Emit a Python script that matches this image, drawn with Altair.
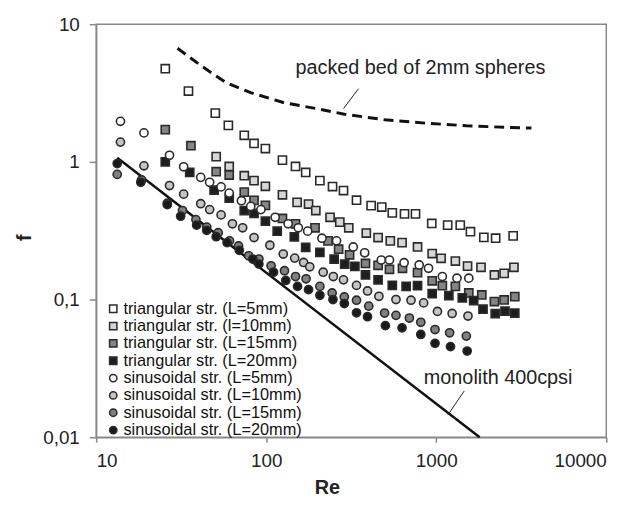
import altair as alt
import pandas as pd

# ---------------- data ----------------
series_names = [
    "triangular str. (L=5mm)", "triangular str. (l=10mm)",
    "triangular str. (L=15mm)", "triangular str. (L=20mm)",
    "sinusoidal str. (L=5mm)", "sinusoidal str. (L=10mm)",
    "sinusoidal str. (L=15mm)", "sinusoidal str. (L=20mm)",
]
series_fill = ["#ffffff", "#d6d6d6", "#858585", "#1e1e1e",
               "#ffffff", "#c4c4c4", "#808080", "#1a1a1a"]
series_stroke = ["#2a2a2a"] * 8
series_shape = ["square"] * 4 + ["circle"] * 4

t5_re = [25.5, 34.9, 50.2, 59.9, 74.3, 84.8, 98.9, 124.6, 148.7, 170.7, 206.9, 245.5, 284.8,
         339.7, 414, 478, 551.6, 650.7, 755.1, 941, 1167, 1384, 1589, 1905, 2235, 2833]
t5_f = [4.75, 3.27, 2.26, 1.84, 1.56, 1.36, 1.25, 1.03, 0.926, 0.838, 0.731, 0.662, 0.619,
        0.527, 0.481, 0.470, 0.426, 0.419, 0.419, 0.357, 0.347, 0.347, 0.311, 0.283, 0.279, 0.290]

t10_re = [50.8, 60.6, 74.3, 84.8, 98.9, 124.6, 152.0, 177.4, 195.8, 237.5, 271.0, 305.9, 387.8,
          455.0, 536.7, 629.5, 776.2, 946.4, 1068, 1296, 1528, 1833, 2198, 2509, 2864]
t10_f = [1.092, 0.926, 0.793, 0.731, 0.665, 0.577, 0.508, 0.494, 0.443, 0.396, 0.365, 0.332, 0.304,
         0.282, 0.267, 0.259, 0.241, 0.216, 0.1995, 0.1905, 0.175, 0.1716, 0.151, 0.155, 0.1716]

t15_re = [25.5, 36.1, 50.8, 60.6, 74.3, 84.8, 98.9, 124.6, 148.7, 193.7, 231.0, 266.6, 309.3,
          383.5, 455.0, 530.8, 633.0, 776.2, 946.4, 1086, 1296, 1554, 1853, 2198, 2509, 2896]
t15_f = [1.716, 1.31, 0.848, 0.802, 0.603, 0.525, 0.483, 0.388, 0.355, 0.332, 0.267, 0.232, 0.2115,
         0.183, 0.1773, 0.166, 0.1687, 0.157, 0.1369, 0.126, 0.1246, 0.1116, 0.108, 0.0967, 0.0994, 0.105]

t20_re = [25.5, 35.5, 49.4, 60.6, 74.3, 84.8, 98.9, 116.1, 146.3, 170.7, 206.9, 250.9, 289.6,
          332.2, 383.5, 455.0, 551.6, 665.2, 776.2, 946.4, 1186, 1423, 1660, 1884, 2223, 2537, 2896]
t20_f = [1.00, 0.838, 0.623, 0.545, 0.443, 0.423, 0.371, 0.314, 0.285, 0.239, 0.220, 0.197, 0.181,
         0.174, 0.151, 0.139, 0.1267, 0.1246, 0.126, 0.1104, 0.1068, 0.1028, 0.0984, 0.0852, 0.0789,
         0.0825, 0.0798]

s5_re = [13.9, 19.1, 27.0, 32.7, 41.2, 46.5, 54.3, 60.6, 71.5, 81.1, 93.1, 112.9, 134.6, 154.5,
         175.4, 212.7, 259.3, 325.1, 379.3, 475.3, 530.8, 647.1, 793.6, 900.4, 1086, 1324, 1554]
s5_f = [1.97, 1.624, 1.116, 0.921, 0.772, 0.711, 0.658, 0.593, 0.522, 0.475, 0.450, 0.396, 0.355,
        0.332, 0.314, 0.279, 0.267, 0.241, 0.2186, 0.1937, 0.1937, 0.1852, 0.1783, 0.1687, 0.147,
        0.143, 0.143]

s10_re = [13.9, 19.1, 27.0, 32.7, 41.2, 46.5, 54.3, 63.3, 72.7, 84.8, 105.1, 126.0, 147.1, 166.0,
          180.3, 216.3, 248.2, 284.8, 339.7, 394.3, 460.1, 579.7, 710.7, 843.2, 1016.7, 1240, 1537]
s10_f = [1.392, 0.936, 0.673, 0.583, 0.497, 0.450, 0.412, 0.355, 0.332, 0.282, 0.248, 0.214, 0.200,
         0.186, 0.173, 0.158, 0.147, 0.139, 0.1267, 0.1154, 0.1056, 0.100, 0.0989, 0.0946, 0.082,
         0.0793, 0.0759]

s15_re = [13.3, 18.5, 26.2, 32.2, 38.6, 44.7, 52.2, 60.9, 68.8, 78.9, 90.6, 106.8, 128.1, 148.7,
          171.6, 206.9, 244.2, 288.0, 339.7, 400.9, 496.8, 579.7, 695.2, 811.3, 983.5, 1199, 1503]
s15_f = [0.811, 0.739, 0.502, 0.443, 0.381, 0.336, 0.306, 0.267, 0.245, 0.208, 0.197, 0.176, 0.162,
         0.147, 0.1415, 0.1246, 0.1116, 0.1045, 0.0989, 0.0896, 0.0798, 0.0768, 0.0734, 0.0684,
         0.0606, 0.0574, 0.0543]

s20_re = [13.3, 18.3, 26.2, 31.4, 39.0, 44.7, 50.8, 58.9, 69.5, 83.4, 90.6, 110.4, 130.3, 152.9,
          177.4, 206.9, 246.9, 288.0, 339.7, 394.3, 502.3, 629.5, 811.3, 983.5, 1213, 1520]
s20_f = [0.973, 0.711, 0.489, 0.403, 0.347, 0.318, 0.286, 0.259, 0.228, 0.197, 0.181, 0.158, 0.1376,
         0.1246, 0.118, 0.1074, 0.100, 0.0936, 0.0802, 0.0751, 0.0647, 0.0623, 0.0558, 0.0481,
         0.0455, 0.0423]

packed_re = [30.1, 41.9, 58.3, 81.1, 126, 207, 288, 500, 867, 1503, 2607, 3631]
packed_f = [6.68, 4.94, 3.75, 3.18, 2.70, 2.41, 2.22, 2.02, 1.91, 1.83, 1.78, 1.76]

mono_re = [13.3, 1800]
mono_f = [1.07, 0.01]

label_text = ["packed bed of 2mm spheres", "monolith 400cpsi"]
label_re = [807, 2312]
label_f = [4.81, 0.0271]
leader_re = [349, 1462]
leader_f = [3.40, 0.0217]
leader_re2 = [285, 1172]
leader_f2 = [2.44, 0.01455]

x_ticks = [10, 100, 1000, 10000]
y_ticks = [0.01, 0.1, 1, 10]

# ---------------- tables ----------------
all_re = [t5_re, t10_re, t15_re, t20_re, s5_re, s10_re, s15_re, s20_re]
all_f = [t5_f, t10_f, t15_f, t20_f, s5_f, s10_f, s15_f, s20_f]
rows = []
for name, rs, fs in zip(series_names, all_re, all_f):
    for r, f in zip(rs, fs):
        rows.append({"Re": r, "f": f, "series": name})
pts = pd.DataFrame(rows)
packed = pd.DataFrame({"Re": packed_re, "f": packed_f})
mono = pd.DataFrame({"Re": mono_re, "f": mono_f})
labels = pd.DataFrame({"Re": label_re, "f": label_f, "text": label_text})
leaders = pd.DataFrame({"Re": leader_re, "f": leader_f, "Re2": leader_re2, "f2": leader_f2})

FONT = "Liberation Sans"
xscale = alt.Scale(type="log", domain=[10, 10000], nice=False)
yscale = alt.Scale(type="log", domain=[0.01, 10], nice=False)

xaxis = alt.Axis(values=x_ticks, format="d", title="Re", grid=False, tickSize=5,
                 labelPadding=10, titleX=233, titleY=51, titleBaseline="middle",
                 titleAlign="center")
yaxis = alt.Axis(values=y_ticks, grid=False, tickSize=7, labelPadding=10, title="f",
                 labelExpr="datum.value >= 1 ? format(datum.value, 'd') : replace(toString(datum.value), '.', ',')",
                 titleX=-72, titleY=215, titleBaseline="middle", titleAlign="center", titleAngle=-90)

legend = alt.Legend(title=None, orient="none", legendX=9, legendY=279, labelFontSize=16.5,
                    labelFont=FONT, labelColor="#111", symbolSize=55, symbolStrokeWidth=1.5,
                    rowPadding=0.5, labelOffset=2, padding=0, labelLimit=0)

points = alt.Chart(pts).mark_point(filled=True, opacity=1, size=68, strokeWidth=1.6).encode(
    x=alt.X("Re:Q", scale=xscale, axis=xaxis),
    y=alt.Y("f:Q", scale=yscale, axis=yaxis),
    fill=alt.Fill("series:N", scale=alt.Scale(domain=series_names, range=series_fill), legend=legend),
    shape=alt.Shape("series:N", scale=alt.Scale(domain=series_names, range=series_shape), legend=legend),
    stroke=alt.Stroke("series:N", scale=alt.Scale(domain=series_names, range=series_stroke), legend=legend),
)

packed_line = alt.Chart(packed).mark_line(color="#111", strokeWidth=3, strokeDash=[10, 6]).encode(
    x=alt.X("Re:Q", scale=xscale), y=alt.Y("f:Q", scale=yscale))

mono_line = alt.Chart(mono).mark_line(color="#111", strokeWidth=2.5).encode(
    x=alt.X("Re:Q", scale=xscale), y=alt.Y("f:Q", scale=yscale))

leader_lines = alt.Chart(leaders).mark_rule(color="#222", strokeWidth=1).encode(
    x=alt.X("Re:Q", scale=xscale), y=alt.Y("f:Q", scale=yscale), x2="Re2:Q", y2="f2:Q")

texts = alt.Chart(labels).mark_text(font=FONT, fontSize=20, color="#222", align="center",
                                    baseline="middle").encode(
    x=alt.X("Re:Q", scale=xscale), y=alt.Y("f:Q", scale=yscale), text="text:N")

chart = alt.layer(mono_line, packed_line, leader_lines, points, texts).properties(
    width=515, height=417,
    autosize=alt.AutoSizeParams(type="none"),
    padding={"left": 89, "top": 14, "right": 30, "bottom": 60},
).configure_view(stroke="#888", strokeWidth=1.5).configure_axis(
    domainColor="#888", domainWidth=1.5, tickColor="#888", tickWidth=1.5,
    labelFont=FONT, labelFontSize=19, labelColor="#222",
    titleFont=FONT, titleFontSize=20, titleColor="#222", titleFontWeight="bold",
)

chart.save("out.html", embed_options={"renderer": "svg", "actions": False})
